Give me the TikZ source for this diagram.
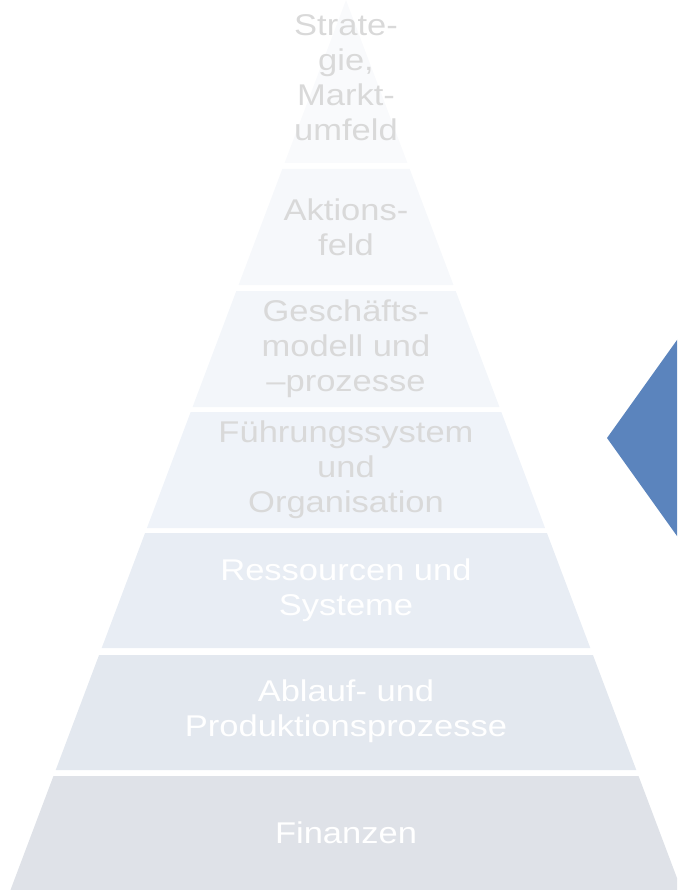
\documentclass[tikz,border=0pt]{standalone}
\usepackage{fontspec}
\setmainfont{Liberation Sans}[FakeStretch=1.15]
\definecolor{lay1}{HTML}{F9FAFC}
\definecolor{lay2}{HTML}{F6F8FB}
\definecolor{lay3}{HTML}{F3F6FA}
\definecolor{lay4}{HTML}{EFF3F9}
\definecolor{lay5}{HTML}{E8EDF4}
\definecolor{lay6}{HTML}{E3E8EF}
\definecolor{lay7}{HTML}{DFE2E8}
\definecolor{greytext}{HTML}{D9D9D9}
\definecolor{accentblue}{RGB}{91,132,189}
\begin{document}
\begin{tikzpicture}[x=1pt,y=-1pt,
  label/.style={align=center,inner sep=0pt,font=\fontsize{30}{35}\selectfont},
  darklabel/.style={label,text=greytext},
  lightlabel/.style={label,text=white}]
\useasboundingbox (0,0) rectangle (677,890);
\begin{scope}
\clip (0,0) rectangle (677,890);
% pyramid layers: top/bottom edge and fill colour
\foreach \t/\b/\c in {0/163/lay1,169/285/lay2,291/407/lay3,412/528/lay4,533/648/lay5,655/770/lay6,776/890/lay7}{
  \fill[\c] ({346-0.377*\t},\t) -- ({346+0.377*\t},\t) -- ({346+0.377*\b},\b) -- ({346-0.377*\b},\b) -- cycle;
}
% blue diamond at the right edge
\fill[accentblue] (607,438) -- (707,298) -- (807,438) -- (707,578) -- cycle;
\end{scope}
\node[darklabel] (strategie) at (346,78) {Strate-\\gie,\\Markt-\\umfeld};
\node[darklabel] (aktion) at (346,227) {Aktions-\\feld};
\node[darklabel] (modell) at (346,349) {Geschäfts-\\modell und\\–prozesse};
\node[darklabel] (fuehrung) at (346,470) {Führungssystem\\und\\Organisation};
\node[lightlabel] (ressourcen) at (346,590) {Ressourcen und\\Systeme};
\node[lightlabel] (ablauf) at (346,711) {Ablauf- und\\Produktionsprozesse};
\node[lightlabel] (finanzen) at (346,833) {Finanzen};
\end{tikzpicture}
\end{document}
